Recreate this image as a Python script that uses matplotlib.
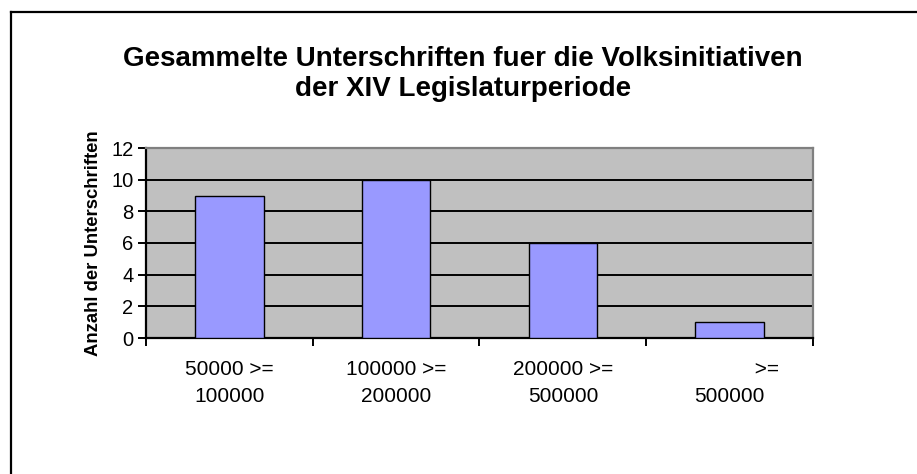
import matplotlib
matplotlib.use("Agg")
import matplotlib.pyplot as plt
from matplotlib.lines import Line2D

plt.rcParams['font.family'] = ['Liberation Sans', 'DejaVu Sans']

# data
categories = ["50000 >=\n100000", "100000 >=\n200000", "200000 >=\n500000",
              "             >=\n500000"]
values = [9, 10, 6, 1]
yticks = [0, 2, 4, 6, 8, 10, 12]

fig = plt.figure(figsize=(9.17, 4.74), dpi=100)
fig.patch.set_facecolor("white")

# outer chart frame (only top and left edges inside the picture)
fig.add_artist(Line2D([11 / 917, 11 / 917], [0, 1 - 12 / 474], transform=fig.transFigure,
                      color="black", lw=1.6))
fig.add_artist(Line2D([11 / 917, 1], [1 - 12 / 474, 1 - 12 / 474], transform=fig.transFigure,
                      color="black", lw=1.6))

ax = fig.add_axes([146 / 917, 136 / 474, 667 / 917, 190 / 474])
ax.set_facecolor("#C0C0C0")

x = list(range(len(values)))
ax.bar(x, values, width=0.41, color="#9999FF", edgecolor="black", linewidth=1.0, zorder=3)

ax.set_xlim(-0.5, len(values) - 0.5)
ax.set_ylim(0, 12)
ax.set_yticks(yticks)
ax.yaxis.grid(True, color="black", linewidth=1.4, zorder=1)
ax.set_axisbelow(True)

ax.set_xticks(x)
ax.set_xticklabels(categories, fontsize=15, linespacing=1.5)
ax.set_xticks([i - 0.5 for i in range(len(values) + 1)], minor=True)
ax.tick_params(axis="x", which="major", length=0, pad=16)
ax.tick_params(axis="x", which="minor", length=6, width=1.4, direction="out")
ax.tick_params(axis="y", length=6, width=1.4, direction="out", labelsize=14.5, pad=3)

for s in ["left", "bottom"]:
    ax.spines[s].set_color("black")
    ax.spines[s].set_linewidth(1.6)
for s in ["top", "right"]:
    ax.spines[s].set_color("#808080")
    ax.spines[s].set_linewidth(1.6)

ax.set_ylabel("Anzahl der Unterschriften", fontsize=13.3, fontweight="bold", labelpad=7)

fig.text(463 / 917, 1 - 74 / 474,
         "Gesammelte Unterschriften fuer die Volksinitiativen\nder XIV Legislaturperiode",
         ha="center", va="center", fontsize=20, fontweight="bold", linespacing=1.2)

fig.savefig("out.png", dpi=100)
